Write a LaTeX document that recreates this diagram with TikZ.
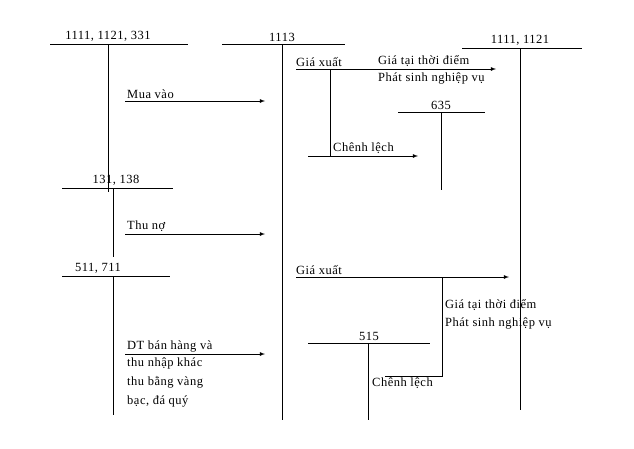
\documentclass[tikz,border=0pt]{standalone}
\usepackage{fontspec}
\setmainfont{Liberation Serif}[LetterSpace=4]
\begin{document}
\begin{tikzpicture}[x=1pt,y=-1pt,
  every node/.style={font=\fontsize{12.5}{14}\selectfont,inner sep=1pt},
  ln/.style={line width=0.8pt},
  ar/.style={line width=0.8pt,-latex},
  lb/.style={anchor=south west},
  lc/.style={anchor=south}]
\useasboundingbox (0,0) rectangle (634,448);
% T accounts
\draw[ln] (50,44) -- (188,44); \draw[ln] (108,44) -- (108,192);
\node[lc] (a1) at (108,43) {1111, 1121, 331};
\draw[ln] (222,44) -- (345,44); \draw[ln] (282,44) -- (282,420);
\node[lc] (a2) at (282,43) {1113};
\draw[ln] (462,48) -- (582,48); \draw[ln] (520,48) -- (520,410);
\node[lc] (a3) at (520,47) {1111, 1121};
\draw[ln] (398,112) -- (485,112); \draw[ln] (441,112) -- (441,190);
\node[lc] (a4) at (441,111) {635};
\draw[ln] (62,188) -- (173,188); \draw[ln] (113,188) -- (113,257);
\node[lc] (a5) at (116,187) {131, 138};
\draw[ln] (62,276) -- (170,276); \draw[ln] (113,276) -- (113,415);
\node[lc] (a6) at (98,275) {511, 711};
\draw[ln] (308,343) -- (430,343); \draw[ln] (368,343) -- (368,420);
\node[lc] (a7) at (369,342) {515};
% arrows
\coordinate (m1) at (125,101); \coordinate (m2) at (265,101);
\draw[ar] (m1) -- (m2); \node[lb] at (126,100) {Mua vào};
\coordinate (g1) at (296,69); \coordinate (g2) at (496,69);
\draw[ar] (g1) -- (g2);
\node[lb] at (295,68) {Giá xuất};
\node[lb] at (377,68) {Giá tại thời điểm};
\node[anchor=north west] at (377,72) {Phát sinh nghiệp vụ};
\coordinate (c0) at (330,69); \coordinate (c1) at (330,156);
\draw[ln] (c0) -- (c1);
\coordinate (c2) at (308,156); \coordinate (c3) at (418,156);
\draw[ar] (c2) -- (c3); \node[lb] at (332,155) {Chênh lệch};
\coordinate (t1) at (125,234); \coordinate (t2) at (265,234);
\draw[ar] (t1) -- (t2); \node[lb] at (126,233) {Thu nợ};
\coordinate (h1) at (296,277); \coordinate (h2) at (509,277);
\draw[ar] (h1) -- (h2); \node[lb] at (295,276) {Giá xuất};
\coordinate (k0) at (442,277); \coordinate (k1) at (442,376); \coordinate (k2) at (385,376);
\draw[ln] (k0) -- (k1) -- (k2);
\node[anchor=north west] at (371,377) {Chênh lệch};
\node[anchor=north west] at (444,298) {Giá tại thời điểm};
\node[anchor=north west] at (444,317) {Phát sinh nghiệp vụ};
\coordinate (d1) at (125,354); \coordinate (d2) at (265,354);
\draw[ar] (d1) -- (d2);
\node[lb] at (126,353) {DT bán hàng và};
\node[anchor=north west,align=left,font=\fontsize{12.5}{19}\selectfont] at (126,357) {thu nhập khác\\thu bằng vàng\\bạc, đá quý};
\end{tikzpicture}
\end{document}
